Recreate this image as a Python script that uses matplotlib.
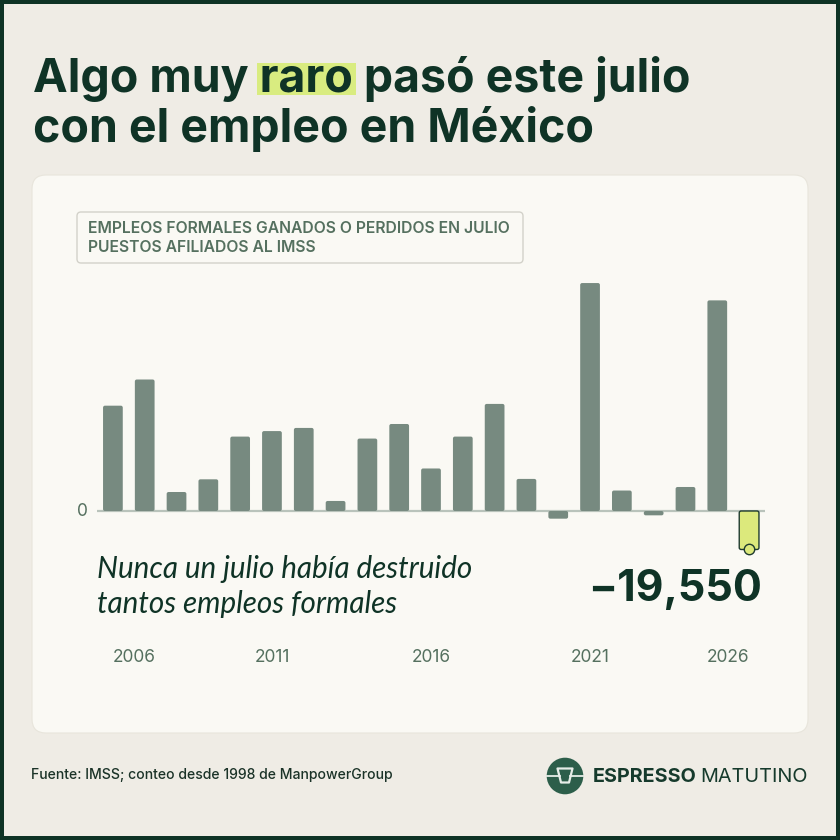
import matplotlib
matplotlib.use('Agg')
import matplotlib.pyplot as plt
import matplotlib.transforms as mtransforms
from matplotlib.patches import FancyBboxPatch, Rectangle, Circle, Polygon
from matplotlib.lines import Line2D

# ---------------- data ----------------
years = list(range(2006, 2027))
values = [53500, 66800, 9650, 16100, 37800, 40600, 42200, 5100, 36800, 44200,
          21600, 37800, 54400, 16300, -3900, 115800, 10400, -2200, 12200, 107000,
          -19550]
highlight_year = 2026
tick_labels = ['2006', '2011', '2016', '2021', '2026']
title_lines = ['Algo muy raro pasó este julio', 'con el empleo en México']
highlight_word = 'raro'
box_lines = ['EMPLEOS FORMALES GANADOS O PERDIDOS EN JULIO', 'PUESTOS AFILIADOS AL IMSS']
note_lines = ['Nunca un julio había destruido', 'tantos empleos formales']
big_number = '\u221219,550'
source = 'Fuente: IMSS; conteo desde 1998 de ManpowerGroup'
brand = ['ESPRESSO', 'MATUTINO']

# ---------------- colours ----------------
FRAME = '#0e3325'
BG = '#efece5'
CARD = '#faf9f4'
DARK = '#0f3326'
MUTED = '#55705f'
BAR = '#778a80'
HILITE = '#dce97c'
ZERO = '#b9c3bb'
LOGO = '#2c5e4a'

W = H = 840
fig = plt.figure(figsize=(W / 100, H / 100), dpi=100)
fig.patch.set_facecolor(FRAME)
T = mtransforms.Affine2D().scale(1 / W, -1 / H).translate(0, 1) + fig.transFigure
R = fig.canvas.get_renderer()


def fit(txt, target):
    w = txt.get_window_extent(R).width
    txt.set_fontsize(txt.get_fontsize() * target / w)
    return txt.get_fontsize()


def measure(s, **kw):
    t = fig.text(0, 0, s, transform=T, **kw)
    w = t.get_window_extent(R).width
    t.remove()
    return w


fig.add_artist(Rectangle((4, 4), W - 8, H - 8, transform=T, fc=BG, ec='none', zorder=-3))
fig.add_artist(FancyBboxPatch((32, 175), 776, 558, boxstyle='round,pad=0,rounding_size=14',
                              transform=T, fc=CARD, ec='#e8e5dc', lw=0.8, zorder=-2))

# ---------------- title ----------------
tkw = dict(family='Inter', fontweight='bold', color=DARK, va='baseline', ha='left', zorder=6)
t1 = fig.text(33, 92, title_lines[0], transform=T, fontsize=34, **tkw)
fs = fit(t1, 658)
fig.text(33, 142, title_lines[1], transform=T, fontsize=fs, **tkw)
pre = title_lines[0][:title_lines[0].index(highlight_word) + len(highlight_word)]
mk = dict(family='Inter', fontweight='bold', fontsize=fs)
w_pre = measure(pre, **mk)
w_word = measure(highlight_word, **mk)
hx0 = 33 + w_pre - w_word - 3
hx1 = 33 + w_pre + 3
fig.add_artist(Rectangle((hx0, 63), hx1 - hx0, 32, transform=T, fc='#d9ec80', ec='none', zorder=5))

# ---------------- subtitle box ----------------
fig.add_artist(FancyBboxPatch((77, 212), 446, 51, boxstyle='round,pad=0,rounding_size=4',
                              transform=T, fc=CARD, ec='#d3d2ca', lw=1, zorder=-1))
bkw = dict(family='Inter', fontweight='semibold', color=MUTED, va='baseline', ha='left', zorder=6)
b1 = fig.text(88.5, 233.3, box_lines[0], transform=T, fontsize=10, **bkw)
bfs = fit(b1, 422)
fig.text(88.5, 251.7, box_lines[1], transform=T, fontsize=bfs, **bkw)

# ---------------- chart ----------------
K = 508.0  # value units per pixel
ax = fig.add_axes([97 / W, (H - 560) / H, 668 / W, 290 / H])
ax.set_xlim(2005.5, 2026.5)
ax.set_ylim(-49 * K, 241 * K)
ax.axis('off')
ax.patch.set_alpha(0)

ax.axhline(0, color=ZERO, lw=1.6, zorder=1)
colors = [HILITE if y == highlight_year else BAR for y in years]
edges = ['#1f3b2f' if y == highlight_year else 'none' for y in years]
bars = ax.bar(years, values, width=0.62, color=colors)
aspect = K * 31.8
for b, fc, ec in zip(bars, colors, edges):
    x, y0, w, h = b.get_x(), b.get_y(), b.get_width(), b.get_height()
    yb = min(y0, y0 + h)
    p = FancyBboxPatch((x, yb), w, abs(h), boxstyle='round,pad=0,rounding_size=0.06',
                       mutation_aspect=aspect, fc=fc, ec=ec, lw=1.0, zorder=2)
    ax.add_patch(p)
    b.remove()
hv = values[years.index(highlight_year)]
ax.plot([highlight_year], [hv], 'o', ms=7.5, mfc=HILITE, mec='#1f3b2f', mew=1.0, zorder=4)

# axis labels
bt = mtransforms.blended_transform_factory(ax.transData, T)
for i, lab in enumerate(tick_labels):
    pos = int(lab)
    if i == 0:
        pos += 0.68
    elif i == len(tick_labels) - 1:
        pos -= 0.66
    ax.text(pos, 657, lab, transform=bt, ha='center', va='center', family='Inter',
            fontsize=12.5, color=MUTED)
bt2 = mtransforms.blended_transform_factory(T, ax.transData)
fig.text(82, 0, '0', transform=bt2, ha='center', va='center', family='Inter',
         fontsize=12.5, color=MUTED, zorder=6)

# annotation
nkw = dict(family='Lato', style='italic', color=DARK, va='baseline', ha='left', zorder=6)
n1 = fig.text(97, 578, note_lines[0], transform=T, fontsize=18, **nkw)
nfs = fit(n1, 376)
fig.text(97, 613, note_lines[1], transform=T, fontsize=nfs, **nkw)

big = fig.text(762, 600.5, big_number, transform=T, ha='right', va='baseline', family='Inter',
               fontweight='bold', color=DARK, fontsize=30, zorder=6)
fit(big, 173)

# ---------------- footer ----------------
src = fig.text(31, 779, source, transform=T, ha='left', va='baseline', family='Inter',
               fontweight='medium', color='#1b3328', fontsize=10, zorder=6)
fit(src, 363)

fig.add_artist(Circle((565, 776), 18.3, transform=T, fc=LOGO, ec='none', zorder=5))
lc = '#e6ede8'
fig.add_artist(Line2D([547, 559.8], [776, 776], transform=T, color=lc, lw=1.3, zorder=6))
fig.add_artist(Line2D([570.2, 583], [776, 776], transform=T, color=lc, lw=1.3, zorder=6))
fig.add_artist(Polygon([(557.5, 768.5), (572.5, 768.5), (569, 782.5), (561, 782.5)], closed=True,
                       transform=T, fc='none', ec=lc, lw=1.6, joinstyle='round', zorder=6))
e1 = fig.text(592.7, 782.3, brand[0], transform=T, ha='left', va='baseline', family='Inter',
              fontweight='bold', color='#163a2c', fontsize=13, zorder=6)
fit(e1, 104)
e2 = fig.text(700.7, 782.3, brand[1], transform=T, ha='left', va='baseline', family='Inter',
              fontweight='normal', color='#163a2c', fontsize=13, zorder=6)
fit(e2, 107.6)

fig.savefig('out.png', dpi=100, facecolor=fig.get_facecolor())
